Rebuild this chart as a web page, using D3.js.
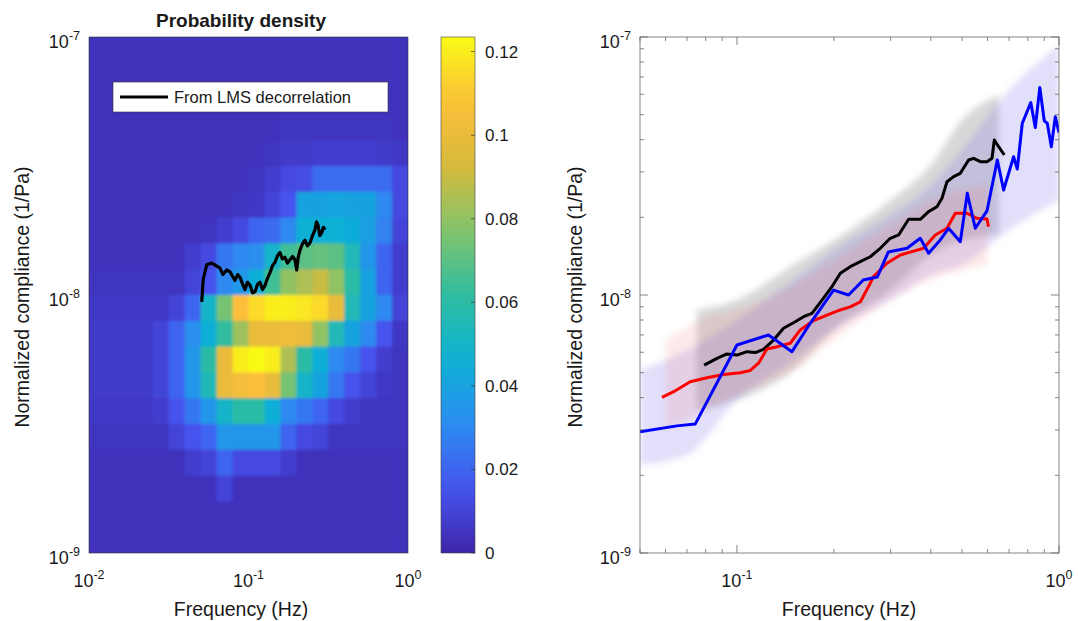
<!DOCTYPE html>
<html>
<head>
<meta charset="utf-8">
<script src="https://cdn.jsdelivr.net/npm/d3@7"></script>
<style>
  body { margin: 0; background: #fff; }
  text { font-family: "Liberation Sans", Arial, Helvetica, sans-serif; fill: #1a1a1a; }
</style>
</head>
<body>
<svg id="chart" width="1078" height="621"></svg>
<script>
// ---- data ----
// probability density, 20 x 20 bins, 0.1 decade each
// rows: top (1e-7) -> bottom (1e-9), cols: 1e-2 -> 1e0
const density = [
  [.004,.004,.004,.004,.004,.004,.004,.004,.004,.004,.004,.004,.004,.004,.004,.004,.004,.004,.004,.004],
  [.004,.004,.004,.004,.004,.004,.004,.004,.004,.004,.004,.004,.004,.004,.004,.004,.004,.004,.004,.004],
  [.004,.004,.004,.004,.004,.004,.004,.004,.004,.004,.004,.004,.004,.004,.004,.004,.004,.004,.004,.004],
  [.004,.004,.004,.004,.004,.004,.004,.004,.004,.004,.004,.004,.005,.005,.005,.005,.005,.005,.005,.004],
  [.004,.004,.004,.004,.004,.004,.004,.004,.004,.004,.004,.005,.007,.007,.008,.008,.008,.008,.007,.006],
  [.004,.004,.004,.004,.004,.004,.004,.004,.004,.004,.005,.008,.012,.013,.022,.022,.022,.022,.022,.012],
  [.004,.004,.004,.004,.004,.004,.004,.004,.004,.005,.006,.010,.015,.040,.040,.041,.040,.040,.030,.012],
  [.004,.004,.004,.004,.004,.004,.004,.005,.008,.012,.020,.022,.030,.046,.046,.046,.044,.038,.028,.010],
  [.004,.004,.004,.004,.004,.004,.008,.012,.025,.030,.032,.050,.065,.070,.072,.070,.055,.035,.020,.008],
  [.005,.005,.005,.005,.005,.005,.010,.015,.030,.035,.045,.065,.080,.085,.090,.080,.060,.040,.020,.008],
  [.006,.006,.006,.006,.006,.010,.020,.050,.075,.108,.115,.120,.120,.118,.115,.100,.055,.040,.030,.010],
  [.007,.007,.007,.007,.010,.020,.032,.045,.062,.082,.100,.100,.102,.100,.080,.055,.040,.030,.015,.006],
  [.007,.007,.007,.007,.010,.020,.035,.060,.100,.120,.123,.120,.085,.060,.045,.030,.025,.015,.008,.005],
  [.007,.007,.007,.007,.010,.020,.035,.055,.100,.105,.108,.100,.075,.050,.040,.025,.015,.010,.006,.005],
  [.006,.006,.006,.006,.008,.015,.025,.035,.050,.060,.060,.045,.030,.025,.020,.012,.008,.005,.005,.005],
  [.005,.005,.005,.005,.005,.010,.015,.020,.035,.035,.035,.035,.020,.012,.010,.005,.005,.005,.005,.005],
  [.004,.004,.004,.004,.004,.004,.008,.010,.020,.012,.012,.012,.008,.004,.004,.004,.004,.004,.004,.004],
  [.004,.004,.004,.004,.004,.004,.004,.004,.010,.004,.004,.004,.004,.004,.004,.004,.004,.004,.004,.004],
  [.004,.004,.004,.004,.004,.004,.004,.004,.004,.004,.004,.004,.004,.004,.004,.004,.004,.004,.004,.004],
  [.004,.004,.004,.004,.004,.004,.004,.004,.004,.004,.004,.004,.004,.004,.004,.004,.004,.004,.004,.004]
];
const densityMax = 0.1235;
const colorbarTicks = [0, 0.02, 0.04, 0.06, 0.08, 0.1, 0.12];

// black curve on the density plot (From LMS decorrelation)
const lmsFreq = [0.0509,0.0520,0.0547,0.0588,0.0625,0.0663,0.0692,0.0730,0.0766,0.0795,0.0823,0.0855,0.0885,0.0920,0.0951,0.0985,0.1022,0.1060,0.1099,0.1140,0.1181,0.1225,0.1269,0.1315,0.1364,0.1415,0.1466,0.1520,0.1575,0.1630,0.1693,0.1755,0.1820,0.1890,0.1956,0.2005,0.2050,0.2102,0.2180,0.2259,0.2340,0.2428,0.2520,0.2610,0.2670,0.2727,0.2800,0.2876,0.2950,0.3018];
const lmsComp = [9.4e-9,1.15e-8,1.31e-8,1.33e-8,1.30e-8,1.27e-8,1.20e-8,1.25e-8,1.23e-8,1.18e-8,1.14e-8,1.20e-8,1.17e-8,1.10e-8,1.05e-8,1.12e-8,1.09e-8,1.02e-8,1.03e-8,1.10e-8,1.12e-8,1.05e-8,1.09e-8,1.16e-8,1.22e-8,1.30e-8,1.34e-8,1.42e-8,1.46e-8,1.38e-8,1.40e-8,1.33e-8,1.37e-8,1.41e-8,1.37e-8,1.25e-8,1.40e-8,1.49e-8,1.58e-8,1.63e-8,1.55e-8,1.59e-8,1.70e-8,1.79e-8,1.92e-8,1.87e-8,1.70e-8,1.74e-8,1.83e-8,1.79e-8];

// right panel curves
const blackFreq = [0.0791,0.0867,0.0931,0.1,0.1074,0.114,0.1209,0.1299,0.1395,0.1517,0.161,0.171,0.1837,0.1972,0.2094,0.2248,0.2415,0.2594,0.2786,0.2993,0.3177,0.3412,0.3709,0.3936,0.4179,0.4331,0.4489,0.4707,0.4938,0.5241,0.5431,0.5697,0.5975,0.6194,0.6297,0.6494,0.6763];
const blackComp = [5.35e-9,5.68e-9,5.91e-9,5.85e-9,6.03e-9,5.98e-9,6.16e-9,6.69e-9,7.43e-9,7.88e-9,8.24e-9,8.49e-9,9.56e-9,1.077e-8,1.214e-8,1.288e-8,1.347e-8,1.407e-8,1.517e-8,1.659e-8,1.709e-8,1.965e-8,1.965e-8,2.104e-8,2.199e-8,2.37e-8,2.749e-8,2.875e-8,2.963e-8,3.337e-8,3.387e-8,3.286e-8,3.286e-8,3.387e-8,3.99e-8,3.757e-8,3.488e-8];

const redFreq = [0.0585,0.0636,0.0716,0.0807,0.0909,0.1024,0.11,0.1167,0.1239,0.1331,0.1464,0.1572,0.1729,0.1903,0.2094,0.2248,0.2415,0.2594,0.265,0.2923,0.3216,0.3495,0.3799,0.413,0.4489,0.4764,0.518,0.5563,0.5975,0.6044];
const redComp = [4.01e-9,4.22e-9,4.61e-9,4.78e-9,4.92e-9,5.0e-9,5.1e-9,5.44e-9,6.18e-9,6.3e-9,6.5e-9,7.32e-9,7.96e-9,8.36e-9,8.75e-9,8.99e-9,9.4e-9,1.11e-8,1.177e-8,1.327e-8,1.429e-8,1.472e-8,1.517e-8,1.709e-8,1.814e-8,2.074e-8,2.074e-8,1.983e-8,1.97e-8,1.84e-8];

const blueFreq = [0.05,0.0651,0.0742,0.1,0.1253,0.1482,0.1689,0.1995,0.2221,0.2468,0.2727,0.2951,0.3373,0.3709,0.3936,0.4279,0.4541,0.4938,0.5191,0.5496,0.5975,0.6434,0.673,0.7228,0.7422,0.7691,0.8172,0.8441,0.8718,0.9,0.9197,0.9465,0.9739,1.0];
const blueComp = [2.95e-9,3.11e-9,3.16e-9,6.4e-9,7.0e-9,6.03e-9,7.77e-9,1.045e-8,1.0e-8,1.143e-8,1.174e-8,1.468e-8,1.517e-8,1.659e-8,1.451e-8,1.634e-8,1.814e-8,1.609e-8,2.478e-8,1.814e-8,2.117e-8,3.337e-8,2.553e-8,3.436e-8,3.078e-8,4.63e-8,5.57e-8,4.46e-8,6.37e-8,4.73e-8,4.63e-8,3.757e-8,4.91e-8,4.26e-8];

// shaded spreads
const grayBandFreq = [0.075,0.1,0.15,0.2,0.3,0.4,0.5,0.65];
const grayBandLow  = [3.58e-9,3.92e-9,5.12e-9,7.32e-9,1.046e-8,1.43e-8,1.63e-8,1.71e-8];
const grayBandHigh = [8.75e-9,9.56e-9,1.31e-8,1.63e-8,2.33e-8,3.19e-8,4.77e-8,5.96e-8];

const blueBandFreq = [0.05,0.07,0.1,0.15,0.2,0.3,0.4,0.5,0.7,1.0];
const blueBandLow  = [2.19e-9,2.40e-9,3.92e-9,5.6e-9,7.32e-9,9.56e-9,1.195e-8,1.31e-8,1.786e-8,2.33e-8];
const blueBandHigh = [5.12e-9,6.12e-9,8.0e-9,1.143e-8,1.494e-8,2.04e-8,2.67e-8,3.65e-8,6.23e-8,9.31e-8];

const redBandFreq = [0.06,0.08,0.1,0.15,0.2,0.3,0.4,0.6];
const redBandLow  = [3.0e-9,3.58e-9,4.10e-9,5.12e-9,6.69e-9,9.56e-9,1.143e-8,1.31e-8];
const redBandHigh = [6.69e-9,8.14e-9,8.75e-9,1.093e-8,1.367e-8,1.867e-8,2.33e-8,2.67e-8];

// parula-like colormap
const parula = ['#3e26a8','#4654f0','#2b8cf0','#0db2d4','#30bca0','#82c46c','#d6ba3c','#fdbf3a','#f9fb15'];

// ---- drawing ----
const svg = d3.select('#chart');
const defs = svg.append('defs');

function powLabel(g, x, y, exp, anchor) {
  const t = g.append('text').attr('x', x).attr('y', y)
    .attr('text-anchor', anchor).attr('font-size', 18);
  t.append('tspan').text('10');
  t.append('tspan').attr('dy', -8).attr('font-size', 12.5).text(exp);
  return t;
}

// ===== left: probability density =====
const L = { x0: 89, x1: 408, y0: 37, y1: 553 };
const xL = d3.scaleLog().domain([1e-2, 1]).range([L.x0, L.x1]);
const yL = d3.scaleLog().domain([1e-9, 1e-7]).range([L.y1, L.y0]);
const color = d3.scaleSequential(d3.piecewise(d3.interpolateRgb, parula)).domain([0, densityMax]);

defs.append('clipPath').attr('id', 'clipL').append('rect')
  .attr('x', L.x0).attr('y', L.y0).attr('width', L.x1 - L.x0).attr('height', L.y1 - L.y0);
defs.append('filter').attr('id', 'soft').attr('x', '-5%').attr('y', '-5%').attr('width', '110%').attr('height', '110%')
  .append('feGaussianBlur').attr('stdDeviation', 1.6);
defs.append('filter').attr('id', 'haze').attr('x', '-10%').attr('y', '-10%').attr('width', '120%').attr('height', '120%')
  .append('feGaussianBlur').attr('stdDeviation', 3);

const gL = svg.append('g').attr('clip-path', 'url(#clipL)');
gL.append('rect').attr('x', L.x0).attr('y', L.y0).attr('width', L.x1 - L.x0).attr('height', L.y1 - L.y0)
  .attr('fill', color(0.004));

const cells = [];
density.forEach((row, r) => row.forEach((v, c) => cells.push({ r, c, v })));
gL.append('g').attr('filter', 'url(#soft)')
  .selectAll('rect').data(cells).join('rect')
  .attr('x', d => xL(Math.pow(10, -2 + 0.1 * d.c)))
  .attr('width', d => xL(Math.pow(10, -2 + 0.1 * (d.c + 1))) - xL(Math.pow(10, -2 + 0.1 * d.c)) + 0.6)
  .attr('y', d => yL(Math.pow(10, -7 - 0.1 * d.r)))
  .attr('height', d => yL(Math.pow(10, -7 - 0.1 * (d.r + 1))) - yL(Math.pow(10, -7 - 0.1 * d.r)) + 0.6)
  .attr('fill', d => color(d.v));

const lmsLine = d3.line().x(d => xL(d[0])).y(d => yL(d[1]));
gL.append('path').datum(d3.zip(lmsFreq, lmsComp))
  .attr('d', lmsLine).attr('fill', 'none').attr('stroke', '#000')
  .attr('stroke-width', 3.2).attr('stroke-linejoin', 'round');

svg.append('rect').attr('x', L.x0).attr('y', L.y0).attr('width', L.x1 - L.x0).attr('height', L.y1 - L.y0)
  .attr('fill', 'none').attr('stroke', '#333').attr('stroke-width', 0.6);

// legend
const leg = svg.append('g');
leg.append('rect').attr('x', 113).attr('y', 82).attr('width', 275).attr('height', 30)
  .attr('fill', '#fff').attr('stroke', '#333').attr('stroke-width', 0.6);
leg.append('line').attr('x1', 120).attr('x2', 168).attr('y1', 97).attr('y2', 97)
  .attr('stroke', '#000').attr('stroke-width', 3);
leg.append('text').attr('x', 174).attr('y', 103).attr('font-size', 16.5).text('From LMS decorrelation');

// title
svg.append('text').attr('x', 241).attr('y', 27).attr('text-anchor', 'middle')
  .attr('font-size', 19).attr('font-weight', 'bold').text('Probability density');

// axis labels (left)
[[1e-7, '-7'], [1e-8, '-8'], [1e-9, '-9']].forEach(([v, e]) => powLabel(svg, L.x0 - 9, yL(v) + 11, e, 'end'));
[[1e-2, '-2'], [1e-1, '-1'], [1, '0']].forEach(([v, e]) => powLabel(svg, xL(v), 587, e, 'middle'));
svg.append('text').attr('x', 241).attr('y', 616).attr('text-anchor', 'middle')
  .attr('font-size', 19.5).text('Frequency (Hz)');
svg.append('text').attr('transform', 'translate(29,297) rotate(-90)').attr('text-anchor', 'middle')
  .attr('font-size', 19.5).text('Normalized compliance (1/Pa)');

// colorbar
const CB = { x0: 441, x1: 475 };
const yC = d3.scaleLinear().domain([0, densityMax]).range([L.y1, L.y0]);
const grad = defs.append('linearGradient').attr('id', 'cbGrad')
  .attr('x1', 0).attr('y1', 1).attr('x2', 0).attr('y2', 0);
d3.range(0, 1.0001, 0.05).forEach(t => grad.append('stop').attr('offset', t).attr('stop-color', color(t * densityMax)));
svg.append('rect').attr('x', CB.x0).attr('y', L.y0).attr('width', CB.x1 - CB.x0).attr('height', L.y1 - L.y0)
  .attr('fill', 'url(#cbGrad)').attr('stroke', '#444').attr('stroke-width', 0.6);
const cbAxis = svg.append('g');
colorbarTicks.forEach(v => {
  cbAxis.append('line').attr('x1', CB.x1 - 4).attr('x2', CB.x1).attr('y1', yC(v)).attr('y2', yC(v))
    .attr('stroke', '#333').attr('stroke-width', 0.7);
  cbAxis.append('text').attr('x', CB.x1 + 10).attr('y', yC(v) + 6).attr('font-size', 17)
    .text(d3.format('~g')(v));
});

// ===== right: compliance vs frequency =====
const R = { x0: 640, x1: 1059, y0: 37, y1: 553 };
const xR = d3.scaleLog().domain([0.05, 1]).range([R.x0, R.x1]);
const yR = d3.scaleLog().domain([1e-9, 1e-7]).range([R.y1, R.y0]);

defs.append('clipPath').attr('id', 'clipR').append('rect')
  .attr('x', R.x0).attr('y', R.y0).attr('width', R.x1 - R.x0).attr('height', R.y1 - R.y0);
const gR = svg.append('g').attr('clip-path', 'url(#clipR)');

const band = d3.area().x(d => xR(d[0])).y0(d => yR(d[1])).y1(d => yR(d[2])).curve(d3.curveMonotoneX);
const bands = gR.append('g').attr('filter', 'url(#haze)');
bands.append('path').datum(d3.zip(grayBandFreq, grayBandLow, grayBandHigh))
  .attr('d', band).attr('fill', 'rgb(150,150,150)').attr('fill-opacity', 0.38);
bands.append('path').datum(d3.zip(blueBandFreq, blueBandLow, blueBandHigh))
  .attr('d', band).attr('fill', 'rgb(110,100,230)').attr('fill-opacity', 0.2);
bands.append('path').datum(d3.zip(redBandFreq, redBandLow, redBandHigh))
  .attr('d', band).attr('fill', 'rgb(240,110,110)').attr('fill-opacity', 0.15);

const lineR = d3.line().x(d => xR(d[0])).y(d => yR(d[1]));
[[blackFreq, blackComp, '#000'], [redFreq, redComp, '#ff0000'], [blueFreq, blueComp, '#0000ff']]
  .forEach(([f, c, col]) => {
    gR.append('path').datum(d3.zip(f, c)).attr('d', lineR)
      .attr('fill', 'none').attr('stroke', col).attr('stroke-width', 3)
      .attr('stroke-linejoin', 'round');
  });

// frame and ticks
const frame = svg.append('g').attr('stroke', '#666').attr('stroke-width', 0.8);
frame.append('rect').attr('x', R.x0).attr('y', R.y0).attr('width', R.x1 - R.x0).attr('height', R.y1 - R.y0)
  .attr('fill', 'none');
const xTicksR = xR.ticks();
xTicksR.forEach(v => {
  const major = Math.abs(Math.log10(v) - Math.round(Math.log10(v))) < 1e-9;
  const len = major ? 8 : 4;
  frame.append('line').attr('x1', xR(v)).attr('x2', xR(v)).attr('y1', R.y1).attr('y2', R.y1 - len);
  frame.append('line').attr('x1', xR(v)).attr('x2', xR(v)).attr('y1', R.y0).attr('y2', R.y0 + len);
});
const yTicksR = yR.ticks();
yTicksR.forEach(v => {
  const major = Math.abs(Math.log10(v) - Math.round(Math.log10(v))) < 1e-9;
  const len = major ? 8 : 4;
  frame.append('line').attr('y1', yR(v)).attr('y2', yR(v)).attr('x1', R.x0).attr('x2', R.x0 + len);
  frame.append('line').attr('y1', yR(v)).attr('y2', yR(v)).attr('x1', R.x1).attr('x2', R.x1 - len);
});

[[1e-7, '-7'], [1e-8, '-8'], [1e-9, '-9']].forEach(([v, e]) => powLabel(svg, R.x0 - 9, yR(v) + 11, e, 'end'));
[[1e-1, '-1'], [1, '0']].forEach(([v, e]) => powLabel(svg, xR(v), 587, e, 'middle'));
svg.append('text').attr('x', 849).attr('y', 616).attr('text-anchor', 'middle')
  .attr('font-size', 19.5).text('Frequency (Hz)');
svg.append('text').attr('transform', 'translate(582,297) rotate(-90)').attr('text-anchor', 'middle')
  .attr('font-size', 19.5).text('Normalized compliance (1/Pa)');
</script>
</body>
</html>
